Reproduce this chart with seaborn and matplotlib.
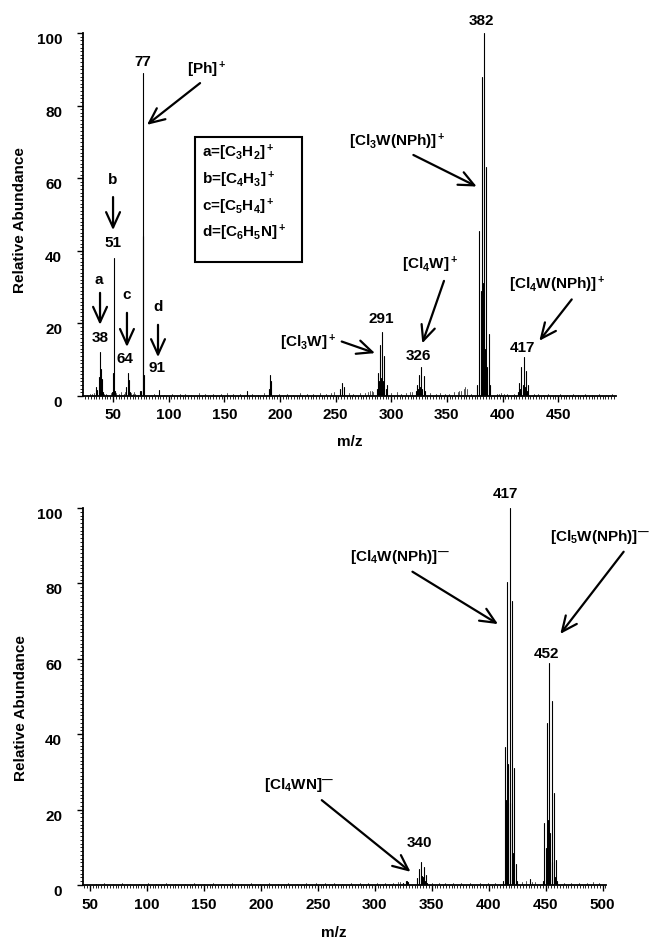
import numpy as np
import pandas as pd
import matplotlib
matplotlib.use("Agg")
import matplotlib.pyplot as plt
import seaborn as sns
from matplotlib.patches import Rectangle

# ---------------- data ----------------
# Top panel: positive-ion spectrum
top_peak_mz = [35, 36, 37, 38.5, 39.5, 40.5, 41, 49, 50, 51, 52, 62, 63, 64, 65,
               74, 75, 76.6, 77.2, 78, 91, 170, 190, 191, 192,
               254, 255.5, 257.5,
               287, 288.4, 289, 290.2, 291, 292, 293, 293.8, 295, 295.9,
               322, 323.5, 324, 325.2, 326, 327, 328, 329, 330,
               377, 379.2, 380.5, 381.8, 382.8, 383.6, 384.5, 385.2, 386, 388, 389,
               414, 415, 416, 417, 418, 419.3, 420, 421, 422, 423]
top_peak_int = [2.5, 1.6, 5.2, 12, 7.5, 4.7, 1.0, 1.0, 6.2, 38, 1.5, 2.5, 6.2, 4.4, 1.0,
                1.5, 1.5, 44, 89, 5.8, 1.7, 1.5, 2.0, 5.8, 4.0,
                2.0, 3.6, 2.5,
                2.0, 6.3, 4.0, 14, 5.0, 17.5, 4.0, 11, 2.0, 3.0,
                1.5, 3.0, 2.0, 5.8, 2.5, 8.0, 2.0, 5.5, 1.5,
                3.0, 45.5, 29, 88, 31, 100, 13, 63, 8.0, 17, 3.0,
                1.0, 3.5, 2.0, 8.0, 3.0, 10.7, 2.5, 7.0, 1.5, 3.0]
top_noise_mz = [27, 29, 31, 33, 42, 44, 45, 48, 53, 55, 57, 60, 61, 66, 68, 69, 70, 72,
                84, 87, 96, 103, 110, 115, 120, 127, 133, 140, 147, 152, 158, 164,
                175, 180, 186, 199, 206, 212, 218, 224, 230, 236, 241, 246, 249,
                262, 266, 272, 276, 279, 281, 283, 284, 300, 305, 309, 313, 317, 319,
                335, 340, 344, 348, 352, 356, 360, 361, 363, 365, 366, 368, 372,
                395, 397, 399, 401, 404, 410, 428, 432, 436, 441, 447, 452, 458,
                463, 468, 474, 480, 487, 493, 498]
top_noise_int = [0.4, 0.6, 0.5, 0.8, 0.6, 0.5, 0.4, 0.8, 0.7, 0.5, 1.0, 0.6, 1.0, 0.8, 0.5, 1.2, 0.6, 0.4,
                 0.4, 0.5, 0.4, 0.6, 0.5, 0.6, 0.4, 0.7, 0.5, 0.6, 0.5, 0.8, 0.5, 0.6,
                 0.5, 0.4, 0.7, 0.5, 0.6, 0.4, 0.7, 0.5, 0.6, 0.8, 0.6, 0.7, 1.0,
                 0.8, 0.6, 0.7, 0.9, 1.2, 1.4, 1.4, 1.2, 0.8, 1.0, 0.6, 0.9, 1.0, 1.2,
                 0.7, 0.6, 0.9, 0.6, 0.5, 1.0, 1.2, 1.5, 1.5, 2.0, 2.6, 1.8, 0.6,
                 0.5, 0.6, 0.8, 0.6, 0.5, 0.5, 0.5, 0.6, 0.4, 0.5, 0.4, 0.5, 0.4,
                 0.5, 0.4, 0.5, 0.4, 0.5, 0.4, 0.5]

# Bottom panel: negative-ion spectrum
bot_peak_mz = [325, 327, 328, 329, 336.8, 338.8, 340.3, 341.5, 342, 343.2, 344, 344.8, 346,
               413, 414.1, 415, 416.1, 417.4, 418.3, 419, 420.3, 421.5, 422.5, 423.7, 425,
               436,
               448, 449, 450, 451.2, 452.4, 453, 454, 455.3, 456, 457, 458, 459, 460]
bot_peak_int = [0.6, 1.0, 1.0, 0.7, 1.8, 4.2, 6.2, 2.5, 2.0, 4.9, 1.0, 2.7, 0.5,
                1.0, 36.7, 22.5, 80.4, 32, 100, 21.7, 75.2, 8.4, 31, 5.7, 1.0,
                1.5,
                1.0, 16.4, 9.7, 42.9, 17.2, 58.8, 13.7, 48.9, 6.2, 24.3, 2.0, 6.5, 1.0]
bot_noise_mz = [55, 62, 70, 78, 85, 93, 101, 108, 117, 125, 133, 141, 150, 158, 166, 175,
                183, 191, 199, 207, 215, 224, 232, 240, 248, 256, 264, 271, 279, 287,
                294, 302, 309, 316, 320, 322, 350, 356, 362, 369, 376, 384, 392, 399,
                406, 429, 433, 438, 441, 466, 472, 479, 486, 492, 497]
bot_noise_int = [0.3, 0.4, 0.3, 0.4, 0.3, 0.3, 0.4, 0.3, 0.4, 0.3, 0.3, 0.4, 0.3, 0.4, 0.3, 0.4,
                 0.3, 0.4, 0.3, 0.4, 0.3, 0.4, 0.3, 0.5, 0.4, 0.5, 0.4, 0.3, 0.5, 0.4,
                 0.5, 0.4, 0.6, 0.5, 0.7, 0.8, 0.5, 0.4, 0.5, 0.4, 0.5, 0.4, 0.5, 0.4,
                 0.5, 0.8, 1.0, 0.9, 0.7, 0.6, 0.5, 0.6, 0.5, 0.7, 0.5]

top_xticks = [50, 100, 150, 200, 250, 300, 350, 400, 450]
bot_xticks = [50, 100, 150, 200, 250, 300, 350, 400, 450, 500]
y_ticks = [0, 20, 40, 60, 80, 100]

# ---------------- style ----------------
sns.set_theme(style="ticks")
plt.rcParams["font.family"] = ["Liberation Sans", "DejaVu Sans"]
plt.rcParams["font.weight"] = "bold"
plt.rcParams["axes.labelweight"] = "bold"
plt.rcParams["axes.labelcolor"] = "black"
plt.rcParams["text.color"] = "black"
plt.rcParams["mathtext.fontset"] = "custom"
for k in ["rm", "it", "bf", "sf"]:
    plt.rcParams["mathtext." + k] = "Liberation Sans:bold"
plt.rcParams["mathtext.default"] = "rm"


def sticks(mz, inten, tag):
    n = len(mz)
    return pd.DataFrame({
        "mz": np.repeat(np.asarray(mz, float), 2),
        "intensity": np.column_stack([np.zeros(n), np.asarray(inten, float)]).ravel(),
        "peak": np.repeat([f"{tag}{i}" for i in range(n)], 2),
    })


fig = plt.figure(figsize=(6.5, 9.43), dpi=100)
ax1 = fig.add_axes([0.1277, 0.5801, 0.820, 0.3849])
ax2 = fig.add_axes([0.1277, 0.0615, 0.8046, 0.3998])

FS = 11


def style_axis(ax, xlim, xticks, ylab_y, xlab_x):
    ax.set_xticks(xticks, labels=[str(v) for v in xticks])
    minor = np.arange(25, 505, 2.5)
    ax.set_xticks(minor[(minor > xlim[0]) & (minor < xlim[1])], minor=True)
    ax.set_yticks(y_ticks, labels=[str(v) for v in y_ticks], va="top")
    ax.set_yticks(np.arange(0, 101, 1), minor=True)
    ax.set_xlim(*xlim)
    ax.set_ylim(0, 100)
    ax.tick_params(which="major", direction="out", length=4, width=1.0,
                   labelsize=FS, color="black", labelcolor="black")
    ax.tick_params(which="minor", direction="out", length=2.2, width=0.6, color="black")
    ax.tick_params(axis="x", which="major", pad=5)
    ax.tick_params(axis="y", which="major", pad=11)
    sns.despine(ax=ax)
    for s in ["left", "bottom"]:
        ax.spines[s].set_linewidth(1.3)
        ax.spines[s].set_color("black")
    ax.set_xlabel("m/z", fontsize=FS, fontweight="bold", color="black")
    ax.set_ylabel("Relative Abundance", fontsize=FS, fontweight="bold", color="black")
    ax.yaxis.set_label_coords(-0.105, ylab_y)
    ax.xaxis.set_label_coords(xlab_x, -0.108)
    ax.grid(False)
    ax.set_facecolor("white")


def arrow(ax, tail, head):
    ax.annotate("", xy=head, xytext=tail,
                arrowprops=dict(arrowstyle="->,head_length=1.1,head_width=0.5",
                                lw=1.6, color="black", mutation_scale=10,
                                shrinkA=0, shrinkB=0), annotation_clip=False)


def label(ax, x, y, s, **kw):
    ax.text(x, y, s, ha="center", va="center", fontsize=FS, fontweight="bold",
            color="black", clip_on=False, **kw)


# ---------------- top panel ----------------
sns.lineplot(data=sticks(top_noise_mz, top_noise_int, "n"), x="mz", y="intensity",
             units="peak", estimator=None, color="#555555", linewidth=0.7,
             legend=False, ax=ax1)
sns.lineplot(data=sticks(top_peak_mz, top_peak_int, "p"), x="mz", y="intensity",
             units="peak", estimator=None, color="black", linewidth=0.8,
             legend=False, ax=ax1)
style_axis(ax1, (23, 502), top_xticks, 0.485, 0.5)

label(ax1, 76.9, 92.0, "77")
label(ax1, 134.4, 89.8, r"[Ph]$^+$")
arrow(ax1, (128.2, 86.2), (80.5, 74.7))

ax1.add_patch(Rectangle((123.7, 36.9), 96.1, 34.4, fill=False, lw=1.5,
                        edgecolor="black", clip_on=False))
for yy, s in zip([66.9, 59.5, 52.1, 44.9],
                 [r"a=[C$_3$H$_2$]$^+$", r"b=[C$_4$H$_3$]$^+$",
                  r"c=[C$_5$H$_4$]$^+$", r"d=[C$_6$H$_5$N]$^+$"]):
    ax1.text(130.0, yy, s, ha="left", va="center", fontsize=FS, fontweight="bold",
             color="black")

label(ax1, 50.0, 59.5, "b")
arrow(ax1, (50.0, 54.8), (50.0, 45.7))
label(ax1, 50.0, 42.1, "51")
label(ax1, 37.4, 32.0, "a")
arrow(ax1, (38.3, 28.4), (38.3, 19.6))
label(ax1, 38.3, 16.0, "38")
label(ax1, 62.5, 27.8, "c")
arrow(ax1, (62.5, 22.9), (62.5, 13.5))
label(ax1, 60.7, 10.2, "64")
label(ax1, 90.4, 24.5, "d")
arrow(ax1, (90.4, 19.6), (90.4, 10.7))
label(ax1, 89.5, 7.7, "91")

label(ax1, 225.2, 14.6, r"[Cl$_3$W]$^+$")
arrow(ax1, (255.5, 15.0), (285.4, 11.8))
label(ax1, 290.8, 21.2, "291")
label(ax1, 334.9, 36.1, r"[Cl$_4$W]$^+$")
arrow(ax1, (347.4, 31.7), (327.9, 14.5))
label(ax1, 324.1, 11.0, "326")
label(ax1, 305.6, 70.1, r"[Cl$_3$W(NPh)]$^+$")
arrow(ax1, (319.9, 66.4), (376.8, 57.7))
label(ax1, 380.7, 103.3, "382")
label(ax1, 449.4, 30.6, r"[Cl$_4$W(NPh)]$^+$")
arrow(ax1, (462.2, 26.6), (433.1, 15.2))
label(ax1, 417.5, 13.2, "417")

# ---------------- bottom panel ----------------
sns.lineplot(data=sticks(bot_noise_mz, bot_noise_int, "n"), x="mz", y="intensity",
             units="peak", estimator=None, color="#555555", linewidth=0.7,
             legend=False, ax=ax2)
sns.lineplot(data=sticks(bot_peak_mz, bot_peak_int, "p"), x="mz", y="intensity",
             units="peak", estimator=None, color="black", linewidth=0.8,
             legend=False, ax=ax2)
style_axis(ax2, (43.9, 503), bot_xticks, 0.47, 0.48)

label(ax2, 233.4, 26.5, r"[Cl$_4$WN]$^{—}$")
arrow(ax2, (253.5, 22.5), (331.4, 3.5))
label(ax2, 339.5, 11.1, "340")
label(ax2, 322.0, 87.1, r"[Cl$_4$W(NPh)]$^{—}$")
arrow(ax2, (333.1, 83.1), (408.2, 69.2))
label(ax2, 414.5, 103.7, "417")
label(ax2, 497.4, 92.4, r"[Cl$_5$W(NPh)]$^{—}$")
arrow(ax2, (518.5, 88.4), (462.9, 66.6))
label(ax2, 450.7, 61.3, "452")

fig.savefig("out.png", dpi=100, facecolor="white")
